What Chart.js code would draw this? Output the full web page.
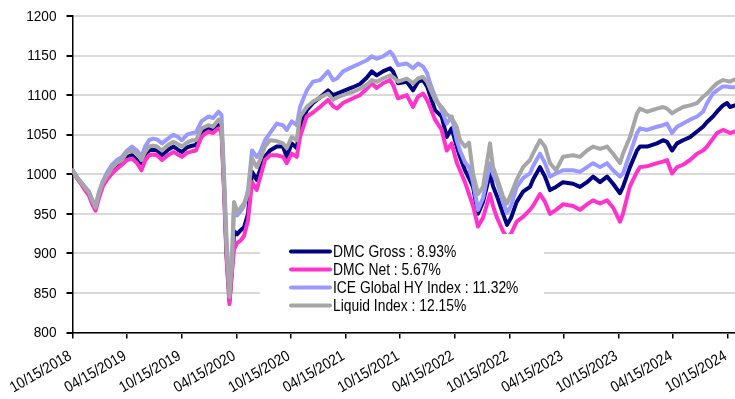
<!DOCTYPE html>
<html>
<head>
<meta charset="utf-8">
<title>DMC vs indices</title>
<script src="https://cdn.jsdelivr.net/npm/chart.js@4/dist/chart.umd.min.js"></script>
<style>
  html, body { margin: 0; padding: 0; background: #ffffff; }
  #wrap { width: 735px; height: 399px; }
</style>
</head>
<body>
<div id="wrap"><canvas id="chart" width="735" height="399"></canvas></div>
<script>
// Months elapsed since 10/15/2018 for each observation
const months = [
  0, 0.49, 0.93, 1.37, 1.81, 2.25, 2.53, 2.91, 3.35, 3.79,
  4.34, 4.89, 5.44, 5.99, 6.54, 7.09, 7.58, 7.97, 8.41, 8.85,
  9.29, 9.84, 10.49, 11.10, 11.59, 12.03, 12.58, 13.13, 13.57, 14.18,
  14.56, 14.95, 15.44, 16.04, 16.37, 16.65, 16.92, 17.25, 17.53, 17.75,
  18.08, 18.46, 18.85, 19.29, 19.73, 20.24, 20.60, 21.15, 21.70, 22.44,
  23.13, 23.54, 24.09, 24.64, 25.00, 25.74, 26.43, 27.20, 28.08, 28.63,
  29.07, 29.73, 30.82, 31.59, 32.33, 32.88, 33.43, 34.12, 34.89, 35.22,
  35.77, 36.73, 37.42, 37.97, 38.52, 38.96, 39.29, 39.84, 40.57, 41.12,
  41.67, 42.22, 42.58, 43.13, 43.57, 44.01, 44.56, 45.11, 45.88, 46.21,
  46.65, 47.31, 47.75, 48.19, 48.81, 49.51, 50.27, 50.60, 51.37, 51.92,
  52.47, 53.13, 53.90, 55.00, 55.77, 56.54, 57.20, 57.97, 58.74, 59.40,
  60.16, 60.49, 61.26, 62.03, 62.36, 63.13, 64.23, 64.89, 65.33, 65.88,
  66.43, 67.09, 67.86, 68.63, 69.29, 69.73, 70.38, 70.82, 71.48, 71.92,
  72.25, 72.80
];

const dmcGross = [
  1005, 996, 989, 982, 976, 963, 957, 974, 988, 996,
  1005, 1011, 1015, 1022, 1024, 1018, 1014, 1024, 1030, 1031,
  1030, 1024, 1031, 1035, 1031, 1028, 1034, 1036, 1037, 1054,
  1056, 1058, 1056, 1062, 1058, 985, 900, 840, 880, 928,
  924, 929, 933, 950, 1003, 993, 1005, 1022, 1030, 1035,
  1035, 1022, 1039, 1033, 1060, 1081, 1090, 1097, 1106, 1100,
  1102, 1105, 1110, 1114, 1122, 1130, 1125, 1130, 1134, 1130,
  1115, 1117, 1106, 1117, 1119, 1111, 1100, 1081, 1073, 1047,
  1058, 1035, 1022, 1005, 995, 984, 950, 965, 1001, 985,
  972, 950, 936, 945, 965, 978, 984, 993, 1009, 997,
  980, 984, 990, 988, 984, 990, 997, 990, 997, 988,
  976, 984, 1009, 1030, 1035, 1035, 1039, 1043, 1041, 1030,
  1039, 1043, 1047, 1054, 1060, 1066, 1073, 1079, 1087, 1090,
  1085, 1087
];

const dmcNet = [
  1005, 995, 988, 980, 973, 960, 954, 970, 985, 993,
  1001, 1007, 1012, 1018, 1020, 1014, 1005, 1017, 1024, 1025,
  1024, 1018, 1024, 1028, 1025, 1022, 1027, 1029, 1030, 1047,
  1051, 1054, 1052, 1058, 1054, 980, 895, 836, 878, 905,
  913, 916, 922, 942, 990, 980, 995, 1018, 1024, 1024,
  1022, 1014, 1026, 1022, 1047, 1073, 1078, 1085, 1094, 1086,
  1083, 1090, 1096, 1100, 1108, 1115, 1109, 1115, 1119, 1113,
  1096, 1100, 1085, 1098, 1102, 1094, 1085, 1069, 1056, 1030,
  1039, 1015, 1005, 990, 975, 960, 934, 945, 975, 960,
  945, 928, 920, 925, 940, 946, 955, 960, 975, 965,
  950, 955, 962, 960, 955, 962, 967, 963, 967, 958,
  940, 950, 985, 1003, 1009, 1010, 1014, 1016, 1018, 1001,
  1009, 1012, 1018, 1026, 1030, 1035, 1045, 1052, 1056, 1054,
  1052, 1054
];

const iceGlobalHY = [
  1005, 996, 990, 984, 978, 966, 960, 978, 992, 1002,
  1012, 1018, 1022, 1030, 1035, 1030, 1022, 1035, 1043, 1045,
  1044, 1039, 1045, 1050, 1047, 1043, 1050, 1052, 1053, 1067,
  1070, 1073, 1071, 1079, 1075, 1000, 920, 858, 885, 960,
  948, 953, 960, 980, 1030, 1022, 1027, 1043, 1052, 1064,
  1062, 1056, 1067, 1062, 1085, 1106, 1117, 1119, 1130, 1119,
  1121, 1130, 1136, 1140, 1144, 1149, 1146, 1149, 1155, 1151,
  1138, 1140, 1134, 1140, 1136, 1128, 1115, 1098, 1081, 1064,
  1073, 1043, 1030, 1015, 1009, 990, 955, 970, 1014, 1000,
  990, 965, 951, 960, 984, 995, 1001, 1010, 1026, 1014,
  997, 1001, 1005, 1005, 1003, 1009, 1014, 1009, 1014, 1005,
  997, 1001, 1026, 1052, 1058, 1056, 1060, 1062, 1064, 1052,
  1060, 1064, 1069, 1073, 1079, 1090, 1102, 1106, 1111, 1111,
  1110, 1110
];

const liquidIndex = [
  1005, 996, 990, 983, 977, 965, 958, 976, 990, 998,
  1008, 1014, 1018, 1028, 1030, 1026, 1018, 1028, 1035, 1036,
  1035, 1030, 1037, 1041, 1038, 1035, 1040, 1043, 1043, 1058,
  1060, 1062, 1060, 1069, 1064, 990, 910, 845, 900, 965,
  953, 957, 963, 975, 1020, 1009, 1018, 1035, 1043, 1042,
  1039, 1033, 1047, 1043, 1073, 1085, 1092, 1097, 1102, 1094,
  1097, 1100, 1104, 1108, 1113, 1119, 1117, 1121, 1125, 1123,
  1117, 1121, 1115, 1121, 1123, 1117, 1108, 1094, 1085, 1076,
  1071, 1060, 1043, 1035, 1040, 1001, 975, 984, 1039, 1009,
  995, 972, 963, 975, 993, 1009, 1018, 1026, 1043, 1035,
  1014, 1005, 1022, 1024, 1022, 1030, 1035, 1032, 1035, 1026,
  1014, 1026, 1047, 1077, 1083, 1079, 1083, 1085, 1083, 1077,
  1081, 1085, 1087, 1090, 1098, 1102, 1110, 1115, 1119, 1118,
  1117, 1120
];

const seriesNames = [
  'DMC Gross : 8.93%',
  'DMC Net : 5.67%',
  'ICE Global HY Index : 11.32%',
  'Liquid Index : 12.15%'
];
const seriesColors = ['#000080', '#ff33cc', '#9999ff', '#a6a6a6'];

const tickMonths = [0, 6, 12, 18, 24, 30, 36, 42, 48, 54, 60, 66, 72];
const tickLabels = [
  '10/15/2018', '04/15/2019', '10/15/2019', '04/15/2020', '10/15/2020',
  '04/15/2021', '10/15/2021', '04/15/2022', '10/15/2022', '04/15/2023',
  '10/15/2023', '04/15/2024', '10/15/2024'
];

const FONT = "'Liberation Sans', Arial, sans-serif";
const NARROW = 0.88;   // horizontal squeeze for a narrow typeface look

function toPoints(values) {
  return values.map((v, i) => ({ x: months[i], y: v }));
}

const allSeries = [dmcGross, dmcNet, iceGlobalHY, liquidIndex];
// later series are painted over earlier ones
const drawOrder = [3, 2, 1, 0];

const datasets = allSeries.map((vals, i) => ({
  label: seriesNames[i],
  data: toPoints(vals),
  borderColor: seriesColors[i],
  backgroundColor: seriesColors[i],
  borderWidth: 4,
  pointRadius: 0,
  tension: 0,
  borderJoinStyle: 'round',
  borderCapStyle: 'round',
  fill: false,
  order: drawOrder[i]
}));

function narrowText(ctx, text, x, y, angle, squeeze) {
  ctx.save();
  ctx.translate(x, y);
  if (angle) ctx.rotate(angle);
  ctx.scale(squeeze, 1);
  ctx.fillText(text, 0, 0);
  ctx.restore();
}

// Axis tick labels, placed from the scales' own ticks and pixel mapping
const narrowTickLabels = {
  id: 'narrowTickLabels',
  afterDraw(chart) {
    const ctx = chart.ctx;
    const xs = chart.scales.x, ys = chart.scales.y;
    ctx.save();
    ctx.fillStyle = '#000000';
    ctx.font = '15.5px ' + FONT;
    ctx.textBaseline = 'middle';
    ctx.textAlign = 'right';
    ys.ticks.forEach(t => {
      const y = ys.getPixelForValue(t.value);
      narrowText(ctx, String(t.value), ys.right - 16, y + 0.5, 0, NARROW);
    });
    xs.ticks.forEach(t => {
      const idx = tickMonths.indexOf(t.value);
      if (idx < 0) return;
      const x = xs.getPixelForValue(t.value);
      narrowText(ctx, tickLabels[idx], x - 2, xs.top + 22.5, -Math.PI / 6, NARROW);
    });
    ctx.restore();
  }
};

// Legend box drawn inside the plot, below the curves
const insideLegend = {
  id: 'insideLegend',
  afterDraw(chart) {
    const ctx = chart.ctx;
    ctx.save();
    ctx.fillStyle = '#ffffff';
    ctx.fillRect(260, 234, 284, 86);
    const x0 = 291, x1 = 330, tx = 333, top = 251.5, step = 18;
    ctx.font = '16.5px ' + FONT;
    ctx.textBaseline = 'middle';
    ctx.textAlign = 'left';
    chart.data.datasets.forEach((ds, i) => {
      const y = top + i * step;
      ctx.strokeStyle = ds.borderColor;
      ctx.lineWidth = 4;
      ctx.lineCap = 'round';
      ctx.beginPath();
      ctx.moveTo(x0, y);
      ctx.lineTo(x1, y);
      ctx.stroke();
      ctx.fillStyle = '#000000';
      narrowText(ctx, ds.label, tx, y + 1, 0, 0.84);
    });
    ctx.restore();
  }
};

new Chart(document.getElementById('chart'), {
  type: 'line',
  data: { datasets },
  plugins: [narrowTickLabels, insideLegend],
  options: {
    responsive: false,
    animation: false,
    devicePixelRatio: 1,
    layout: { padding: { top: 16, right: 0, bottom: 0, left: 0 } },
    plugins: {
      legend: { display: false },
      tooltip: { enabled: false }
    },
    scales: {
      x: {
        type: 'linear',
        min: 0,
        max: 72.8,
        afterBuildTicks(scale) {
          scale.ticks = tickMonths.map(v => ({ value: v }));
        },
        afterFit(scale) { scale.height = 66.5; },
        ticks: { display: false, autoSkip: false },
        grid: {
          drawOnChartArea: false,
          tickColor: '#000000',
          tickLength: 6,
          lineWidth: 1.5
        },
        border: { color: '#000000', width: 1.5 }
      },
      y: {
        min: 800,
        max: 1200,
        afterFit(scale) { scale.width = 72.5; },
        ticks: { display: false, stepSize: 50 },
        grid: {
          color: '#d9d9d9',
          lineWidth: 2,
          tickColor: '#000000',
          tickLength: 6
        },
        border: { color: '#000000', width: 1.5 }
      }
    }
  }
});
</script>
</body>
</html>
